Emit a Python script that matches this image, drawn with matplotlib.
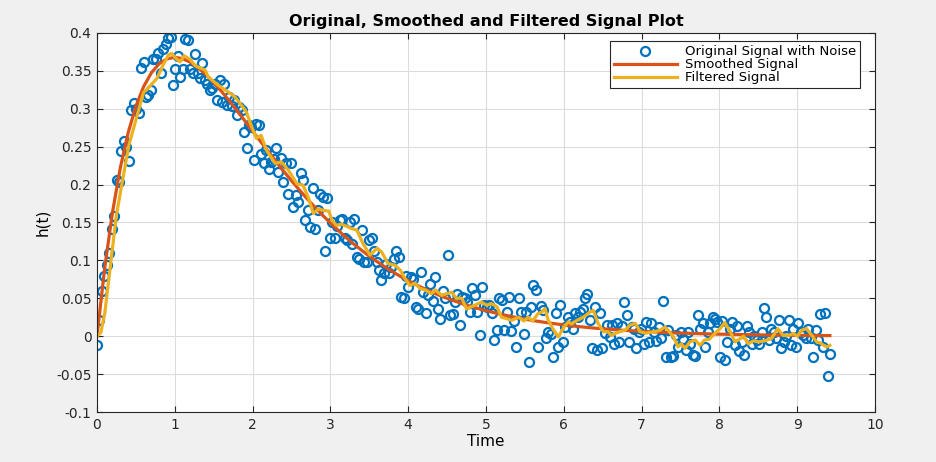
import numpy as np
from matplotlib import pyplot as plt

plt.rcParams['font.family'] = ['DejaVu Sans']

# noisy samples, 300 points over 0..3*pi (rows of 10 samples)
noisy = [
    -0.011, 0.021, 0.059, 0.080, 0.094, 0.110, 0.142, 0.158, 0.206, 0.204,
    0.244, 0.257, 0.250, 0.231, 0.299, 0.307, 0.300, 0.294, 0.354, 0.362,
    0.316, 0.318, 0.325, 0.366, 0.366, 0.373, 0.347, 0.379, 0.386, 0.393,
    0.395, 0.331, 0.353, 0.369, 0.342, 0.352, 0.392, 0.391, 0.353, 0.347,
    0.372, 0.347, 0.340, 0.361, 0.338, 0.333, 0.325, 0.327, 0.333, 0.311,
    0.338, 0.309, 0.333, 0.305, 0.316, 0.304, 0.311, 0.292, 0.302, 0.298,
    0.270, 0.248, 0.278, 0.276, 0.232, 0.280, 0.278, 0.241, 0.228, 0.245,
    0.221, 0.230, 0.234, 0.248, 0.217, 0.235, 0.204, 0.228, 0.188, 0.228,
    0.171, 0.186, 0.177, 0.215, 0.206, 0.153, 0.166, 0.144, 0.195, 0.141,
    0.166, 0.188, 0.184, 0.113, 0.182, 0.129, 0.151, 0.129, 0.146, 0.153,
    0.155, 0.129, 0.127, 0.151, 0.122, 0.155, 0.105, 0.102, 0.140, 0.098,
    0.098, 0.127, 0.129, 0.113, 0.098, 0.087, 0.074, 0.083, 0.095, 0.083,
    0.091, 0.102, 0.113, 0.105, 0.052, 0.051, 0.080, 0.065, 0.078, 0.076,
    0.039, 0.036, 0.085, 0.058, 0.030, 0.055, 0.069, 0.047, 0.078, 0.036,
    0.023, 0.060, 0.050, 0.107, 0.028, 0.029, 0.045, 0.056, 0.015, 0.052,
    0.050, 0.045, 0.032, 0.063, 0.055, 0.032, 0.001, 0.065, 0.041, 0.038,
    0.041, 0.030, -0.005, 0.008, 0.050, 0.048, 0.008, 0.032, 0.052, 0.007,
    0.020, -0.014, 0.050, 0.032, 0.003, 0.032, -0.034, 0.039, 0.067, 0.061,
    -0.014, 0.040, 0.034, -0.003, 0.006, 0.003, -0.027, 0.030, -0.014, 0.041,
    -0.008, 0.012, 0.025, 0.019, 0.010, 0.030, 0.025, 0.032, 0.036, 0.050,
    0.056, 0.021, -0.016, 0.039, -0.018, 0.030, -0.016, 0.004, 0.015, -0.001,
    0.015, -0.010, 0.017, -0.008, 0.013, 0.045, 0.028, -0.008, 0.012, 0.010,
    -0.016, 0.005, 0.010, -0.010, 0.019, -0.008, 0.017, 0.005, -0.006, 0.012,
    -0.003, 0.047, -0.027, 0.008, -0.027, -0.026, 0.002, -0.014, 0.006, -0.004,
    -0.018, 0.006, -0.010, -0.025, -0.026, 0.028, 0.010, 0.017, -0.014, 0.006,
    0.017, 0.025, 0.023, 0.019, -0.027, 0.020, -0.032, -0.008, 0.010, 0.019,
    -0.012, 0.014, -0.020, -0.008, -0.025, 0.014, 0.005, -0.010, 0.000, -0.005,
    -0.010, 0.005, 0.037, 0.025, -0.005, 0.010, 0.005, -0.003, 0.022, -0.016,
    -0.008, 0.000, 0.022, -0.012, 0.010, -0.014, 0.017, 0.005, 0.002, -0.003,
    0.010, -0.003, -0.027, 0.008, -0.005, 0.029, -0.014, 0.031, -0.052, -0.024,
]
tNoisy = np.linspace(0, 3 * np.pi, len(noisy))

tSmooth = [0.0, 0.1, 0.2, 0.3, 0.4, 0.5, 0.6, 0.7, 0.8, 0.9, 1.0, 1.1, 1.2, 1.3,
           1.4, 1.5, 1.6, 1.7, 1.8, 1.9, 2.0, 2.1, 2.2, 2.3, 2.4, 2.5, 2.6, 2.7,
           2.8, 2.9, 3.0, 3.1, 3.2, 3.3, 3.4, 3.5, 3.6, 3.7, 3.8, 3.9, 4.0, 4.1,
           4.2, 4.3, 4.4, 4.5, 4.6, 4.7, 4.8, 4.9, 5.0, 5.2, 5.4, 5.6, 5.8, 6.0,
           6.2, 6.4, 6.6, 6.8, 7.0, 7.2, 7.4, 7.6, 7.8, 8.0, 8.4, 8.8, 9.2, 9.42]
smooth = [0.0, 0.0905, 0.1637, 0.2222, 0.2681, 0.3033, 0.3293, 0.3476, 0.3595,
          0.3659, 0.3679, 0.3662, 0.3614, 0.3543, 0.3452, 0.3347, 0.3230, 0.3106,
          0.2975, 0.2842, 0.2707, 0.2572, 0.2438, 0.2306, 0.2177, 0.2052, 0.1931,
          0.1815, 0.1703, 0.1596, 0.1494, 0.1397, 0.1304, 0.1217, 0.1135, 0.1057,
          0.0984, 0.0915, 0.0850, 0.0790, 0.0733, 0.0680, 0.0630, 0.0584, 0.0540,
          0.0500, 0.0463, 0.0428, 0.0395, 0.0365, 0.0337, 0.0287, 0.0244, 0.0207,
          0.0176, 0.0149, 0.0126, 0.0106, 0.0090, 0.0076, 0.0064, 0.0054, 0.0045,
          0.0038, 0.0032, 0.0027, 0.0019, 0.0013, 0.0009, 0.0008]

tFilt = [0.0, 0.05, 0.1, 0.18, 0.25, 0.32, 0.41, 0.53, 0.6, 0.64, 0.68, 0.77,
         0.85, 0.92, 0.96, 1.02, 1.07, 1.12, 1.2, 1.26, 1.39, 1.43, 1.56, 1.69,
         1.77, 1.84, 1.92, 1.99, 2.05, 2.11, 2.18, 2.29, 2.37, 2.46, 2.57, 2.65,
         2.72, 2.78, 2.85, 2.91, 2.98, 3.02, 3.08, 3.14, 3.27, 3.34, 3.42, 3.51,
         3.6, 3.66, 3.74, 3.83, 3.9, 3.96, 4.02, 4.09, 4.15, 4.22, 4.3, 4.35,
         4.43, 4.56, 4.62, 4.69, 4.75, 4.86, 4.94, 5.01, 5.07, 5.14, 5.2, 5.27,
         5.33, 5.42, 5.49, 5.54, 5.6, 5.67, 5.72, 5.76, 5.8, 5.87, 5.93, 6.0,
         6.06, 6.1, 6.17, 6.25, 6.34, 6.38, 6.44, 6.51, 6.57, 6.61, 6.66, 6.72,
         6.79, 6.85, 6.92, 6.98, 7.05, 7.11, 7.17, 7.24, 7.3, 7.34, 7.41, 7.47,
         7.51, 7.56, 7.62, 7.69, 7.75, 7.81, 7.87, 7.94, 8.01, 8.07, 8.14, 8.2,
         8.27, 8.31, 8.37, 8.44, 8.5, 8.59, 8.67, 8.75, 8.82, 8.89, 8.95, 9.0,
         9.06, 9.12, 9.19, 9.25, 9.3, 9.34, 9.38, 9.42]
filt = [0.0, 0.005, 0.03, 0.099, 0.16, 0.20, 0.252, 0.296, 0.322, 0.325, 0.33,
        0.34, 0.358, 0.371, 0.373, 0.366, 0.362, 0.37, 0.365, 0.357, 0.351, 0.342,
        0.331, 0.322, 0.316, 0.307, 0.296, 0.276, 0.261, 0.265, 0.245, 0.228, 0.23,
        0.219, 0.201, 0.199, 0.182, 0.162, 0.168, 0.166, 0.165, 0.153, 0.146, 0.148,
        0.142, 0.14, 0.122, 0.107, 0.116, 0.111, 0.096, 0.0937, 0.087, 0.076, 0.067,
        0.07, 0.063, 0.061, 0.056, 0.061, 0.054, 0.058, 0.05, 0.05, 0.036, 0.041,
        0.045, 0.041, 0.043, 0.039, 0.025, 0.023, 0.021, 0.025, 0.02, 0.025, 0.02,
        0.03, 0.032, 0.0365, 0.021, 0.008, -0.001, 0.012, 0.019, 0.016, 0.021,
        0.025, 0.032, 0.034, 0.017, 0.006, 0.006, 0.001, 0.0035, 0.006, 0.008,
        0.0145, 0.017, 0.006, 0.004, 0.005, 0.006, 0.008, 0.012, 0.008, -0.001,
        -0.014, -0.01, -0.016, -0.0075, -0.005, -0.012, -0.005, -0.004, 0.0035,
        0.01, 0.018, 0.006, -0.0075, -0.003, 0.0, -0.01, -0.006, -0.0075, -0.006,
        -0.003, 0.01, 0.001, 0.001, 0.0035, 0.0, 0.008, 0.01, 0.001, -0.0075,
        -0.009, -0.012, -0.014, -0.012]

fig = plt.figure(figsize=(9.36, 4.62), dpi=100, facecolor='#f0f0f0')
ax = fig.add_axes([0.1036, 0.1082, 0.8312, 0.8204])

ax.plot(tNoisy, noisy, 'o', mfc='none', mec='#0072BD', ms=6.5, mew=1.6,
        label='Original Signal with Noise')
ax.plot(tSmooth, smooth, color='#D95319', lw=2.3, label='Smoothed Signal')
ax.plot(tFilt, filt, color='#EDB120', lw=2.3, label='Filtered Signal')

ax.set_xlim(0, 10)
ax.set_ylim(-0.1, 0.4)
ax.set_xticks(np.arange(0, 11, 1))
ax.set_yticks(np.arange(-0.1, 0.41, 0.05))
ax.set_yticklabels(['-0.1', '-0.05', '0', '0.05', '0.1', '0.15', '0.2',
                    '0.25', '0.3', '0.35', '0.4'])
ax.grid(True, color='#dcdcdc', lw=0.8)
ax.set_axisbelow(True)
ax.tick_params(direction='in', top=True, right=True, length=4, labelsize=10,
               colors='#262626', pad=4)
for s in ax.spines.values():
    s.set_color('#262626')
    s.set_linewidth(0.8)

ax.set_xlabel('Time', fontsize=11, labelpad=2)
ax.set_ylabel('h(t)', fontsize=11, labelpad=4)
ax.set_title('Original, Smoothed and Filtered Signal Plot', fontsize=11.5,
             fontweight='bold', pad=5)

leg = ax.legend(loc='upper right', bbox_to_anchor=(0.981, 0.979), numpoints=1,
                fancybox=False, framealpha=1, edgecolor='#262626', fontsize=9.5,
                borderpad=0.3, labelspacing=0.0, handlelength=4.8,
                handleheight=0.5, handletextpad=0.6, borderaxespad=0)
leg.get_frame().set_linewidth(0.8)

plt.savefig('out.png', dpi=100, facecolor=fig.get_facecolor())
